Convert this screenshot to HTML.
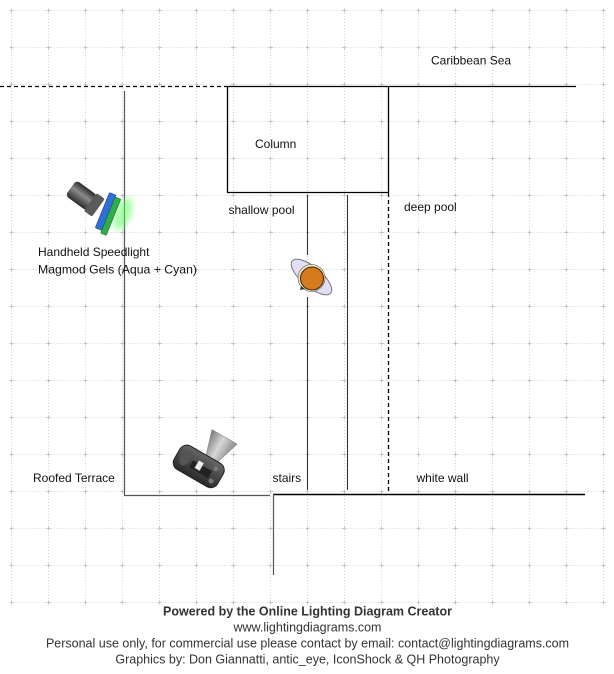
<!DOCTYPE html>
<html><head><meta charset="utf-8"><style>
html,body{margin:0;padding:0;background:#fff;}
svg{display:block;}
text{font-family:"Liberation Sans",Arial,sans-serif;}
</style></head><body>
<svg width="614" height="674" viewBox="0 0 614 674" xmlns="http://www.w3.org/2000/svg">
<defs>
<linearGradient id="tube" x1="0" y1="0" x2="0" y2="1">
<stop offset="0" stop-color="#2a2a2a"/><stop offset="0.45" stop-color="#8a8a8a"/><stop offset="1" stop-color="#2a2a2a"/>
</linearGradient>
<linearGradient id="fh" x1="0" y1="0" x2="1" y2="0">
<stop offset="0" stop-color="#777"/><stop offset="0.5" stop-color="#d8d8d8"/><stop offset="1" stop-color="#888"/>
</linearGradient>
<linearGradient id="body" x1="0" y1="0" x2="0" y2="1">
<stop offset="0" stop-color="#666"/><stop offset="1" stop-color="#2a2a2a"/>
</linearGradient>
<filter id="blur"><feGaussianBlur stdDeviation="3"/></filter>
<pattern id="tick" patternUnits="userSpaceOnUse" x="8" y="7" width="37" height="37">
<path d="M3.5 1.5V5.5M1.5 3.5H5.5" stroke="#c4c4c4" stroke-width="1" fill="none"/>
</pattern>
</defs>

<!-- grid -->
<g stroke="#d4d4d4" stroke-width="1" stroke-dasharray="1,2" fill="none">
<path d="M11.5 10V602M48.5 10V602M85.5 10V602M122.5 10V602M159.5 10V602M196.5 10V602M233.5 10V602M270.5 10V602M307.5 10V602M344.5 10V602M381.5 10V602M418.5 10V602M455.5 10V602M492.5 10V602M529.5 10V602M566.5 10V602M603.5 10V602"/>
<path d="M11.5 10.5H603.5M11.5 47.5H603.5M11.5 84.5H603.5M11.5 121.5H603.5M11.5 158.5H603.5M11.5 195.5H603.5M11.5 232.5H603.5M11.5 269.5H603.5M11.5 306.5H603.5M11.5 343.5H603.5M11.5 380.5H603.5M11.5 417.5H603.5M11.5 454.5H603.5M11.5 491.5H603.5M11.5 528.5H603.5M11.5 565.5H603.5M11.5 602.5H603.5"/>
</g>
<rect x="8" y="7" width="600" height="600" fill="url(#tick)"/>

<!-- top boundary -->
<line x1="0" y1="86.5" x2="228" y2="86.5" stroke="#000" stroke-width="1.3" stroke-dasharray="4,3"/>
<line x1="227.5" y1="86.5" x2="576" y2="86.5" stroke="#000" stroke-width="1.3"/>
<!-- column box -->
<path d="M227.5 86.5V192.5H388.5V86.5" stroke="#000" stroke-width="1.3" fill="none"/>
<!-- deep pool dashed -->
<line x1="388.5" y1="193" x2="388.5" y2="494" stroke="#000" stroke-width="1.3" stroke-dasharray="4,3"/>
<!-- terrace lines -->
<path d="M124.5 91V495.5H270" stroke="#555" stroke-width="1.2" fill="none"/>
<!-- stairs lines -->
<path d="M307.5 195V255M307.5 297V490M347.5 195V490" stroke="#333" stroke-width="1.1" fill="none"/>
<!-- white wall -->
<line x1="273" y1="494.5" x2="585" y2="494.5" stroke="#000" stroke-width="1.4"/>
<line x1="273.5" y1="494" x2="273.5" y2="575" stroke="#555" stroke-width="1.2"/>

<!-- labels -->
<g font-size="12" fill="#111">
<text x="431" y="64.5">Caribbean Sea</text>
<text x="255" y="148">Column</text>
<text x="228.5" y="214">shallow pool</text>
<text x="404" y="211">deep pool</text>
<text x="38" y="256">Handheld Speedlight</text>
<text x="38" y="273.5" textLength="159" lengthAdjust="spacingAndGlyphs">Magmod Gels (Aqua + Cyan)</text>
<text x="33" y="482">Roofed Terrace</text>
<text x="272.5" y="482">stairs</text>
<text x="416.5" y="482">white wall</text>
</g>

<!-- speedlight -->
<ellipse cx="123" cy="214" rx="8" ry="17" fill="#5f5" opacity="0.5" filter="url(#blur)" transform="rotate(22 123 214)"/>
<g transform="translate(100,209) rotate(36)">
<rect x="-36" y="-9.5" width="26" height="19" rx="4" fill="url(#tube)"/>
<rect x="-12" y="-11" width="10" height="22" rx="2" fill="#5a5a5a"/>
</g>
<g transform="translate(107,212) rotate(22)">
<rect x="-5" y="-19" width="7" height="38" rx="1" fill="#2e6fd8" stroke="#1a3f88" stroke-width="0.6"/>
<rect x="2" y="-17" width="6" height="39" rx="1" fill="#2fae4c" stroke="#1c6a2c" stroke-width="0.6"/>
</g>

<!-- camera -->
<g transform="translate(199,466) rotate(30)">
<path d="M1 -12 L-7 -38 L22 -38 L14 -12 Z" fill="url(#fh)" stroke="#888" stroke-width="0.6"/>
<rect x="-25" y="-13" width="50" height="27" rx="8" fill="url(#body)" stroke="#222" stroke-width="1"/>
<rect x="-8" y="-2" width="22" height="8" fill="#222"/>
<rect x="-3" y="-5" width="6" height="9" fill="#eee" stroke="#555" stroke-width="0.5"/>
<circle cx="16" cy="-6" r="2.5" fill="#777"/>
<circle cx="18" cy="7" r="2.5" fill="#777"/>
<ellipse cx="-16" cy="0" rx="5" ry="8" fill="#555"/>
</g>

<!-- subject -->
<g>
<ellipse cx="311.5" cy="277" rx="25" ry="10" transform="rotate(40 311.5 277)" fill="#e2def3" stroke="#777" stroke-width="1"/>
<circle cx="311.5" cy="278" r="13.5" fill="#f1e6c4" stroke="#555" stroke-width="0.6"/>
<circle cx="312" cy="278.5" r="11.5" fill="#d57b1d" stroke="#3a2608" stroke-width="1"/>
<path d="M301 286 L305 289 L300 290 Z" fill="#333"/>
</g>

<!-- footer -->
<g font-size="12.5" fill="#333" text-anchor="middle">
<text x="307.5" y="615.5" font-weight="bold">Powered by the Online Lighting Diagram Creator</text>
<text x="307.5" y="631.5">www.lightingdiagrams.com</text>
<text x="307.5" y="647.5">Personal use only, for commercial use please contact by email: contact@lightingdiagrams.com</text>
<text x="307.5" y="663.5">Graphics by: Don Giannatti, antic_eye, IconShock &amp; QH Photography</text>
</g>
</svg>
</body></html>
